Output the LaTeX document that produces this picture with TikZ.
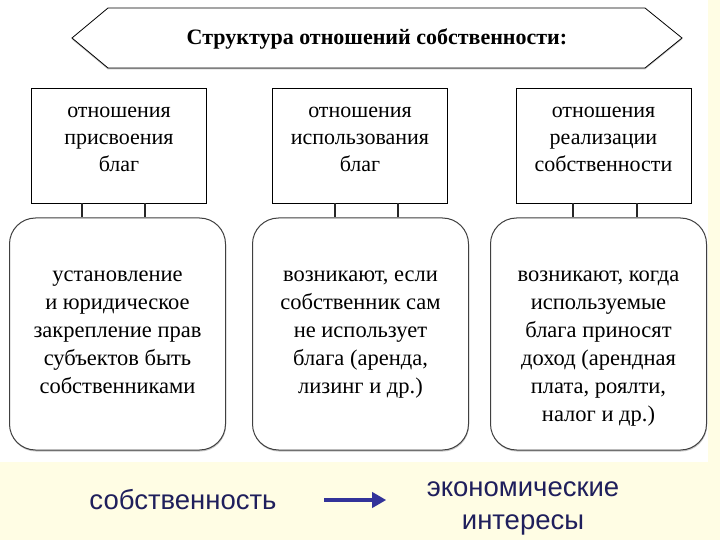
\documentclass[tikz,border=0pt]{standalone}
\usepackage{fontspec}
\setmainfont{Liberation Serif}
\setsansfont{Liberation Sans}
\usetikzlibrary{shadows, arrows.meta}
\definecolor{slidebg}{RGB}{255,253,228}
\definecolor{arrowblue}{RGB}{51,51,153}

\begin{document}
\begin{tikzpicture}[x=1pt, y=-1pt,
    relbox/.style={draw, line width=0.9pt, fill=white, minimum width=175pt, minimum height=115pt},
    lowbox/.style={draw=black!75, line width=1pt, fill=white, rounded corners=26pt, minimum width=216pt, minimum height=232pt,
        drop shadow={shadow xshift=0.5pt, shadow yshift=-1.5pt, fill=black!45}},
    boxtext/.style={anchor=north, inner sep=0pt, align=center, font=\fontsize{22}{27}\selectfont},
    lowtext/.style={anchor=north, inner sep=0pt, align=center, font=\fontsize{22.5}{28}\selectfont},
    link/.style={line width=1.3pt, black!85},
    flow/.style={arrowblue, line width=4.5pt, -{Triangle[length=14pt, width=15pt]}}]
    \useasboundingbox (0,0) rectangle (720,540);
    \fill[slidebg] (0,0) rectangle (720,540);
    \fill[white] (0,0) rectangle (708,462);

    % banner
    \draw[fill=white, line width=0.8pt, drop shadow={shadow xshift=0pt, shadow yshift=-1.5pt, fill=black!45}]
        (72,38) -- (108,8) -- (645,8) -- (682,38) -- (645,68) -- (108,68) -- cycle;
    \node[font=\fontsize{22}{26}\selectfont\bfseries] (title) at (377,39) {Структура отношений собственности:};

    % top boxes
    \node[relbox] (top1) at (119,145.5) {};
    \node[relbox] (top2) at (360,145.5) {};
    \node[relbox] (top3) at (603.5,145.5) {};
    \node[boxtext] (top1txt) at (119,107) {отношения\\присвоения\\благ};
    \node[boxtext] (top2txt) at (360,107) {отношения\\использования\\благ};
    \node[boxtext] (top3txt) at (603.5,107) {отношения\\реализации\\собственности};

    % lower boxes
    \node[lowbox] (low1) at (117.5,334) {};
    \node[lowbox] (low2) at (360.5,334) {};
    \node[lowbox] (low3) at (598.5,334) {};
    \node[lowtext] (low1txt) at (117.5,271) {установление\\и юридическое\\закрепление прав\\субъектов быть\\собственниками};
    \node[lowtext] (low2txt) at (360.5,271) {возникают, если\\собственник сам\\не использует\\блага (аренда,\\лизинг и др.)};
    \node[lowtext] (low3txt) at (598.5,271) {возникают, когда\\используемые\\блага приносят\\доход (арендная\\плата, роялти,\\налог и др.)};

    \foreach \i/\a/\b in {1/-37/26, 2/-25/38, 3/-30.5/33.5} {
        \draw[link] ([xshift=\a]top\i.south) -- ([xshift=\a]top\i.south |- low\i.north);
        \draw[link] ([xshift=\b]top\i.south) -- ([xshift=\b]top\i.south |- low\i.north);
    }

    % bottom line
    \node[font=\sffamily\fontsize{27.5}{33}\selectfont, text=arrowblue!60!black] (prop) at (183,500) {собственность};
    \node[font=\sffamily\fontsize{27.5}{33}\selectfont, text=arrowblue!60!black, align=center] (intr) at (523,508) {экономические\\интересы};
    \draw[flow, shorten <=44pt, shorten >=37pt] (prop.east) -- (prop.east -| intr.west);
\end{tikzpicture}
\end{document}
